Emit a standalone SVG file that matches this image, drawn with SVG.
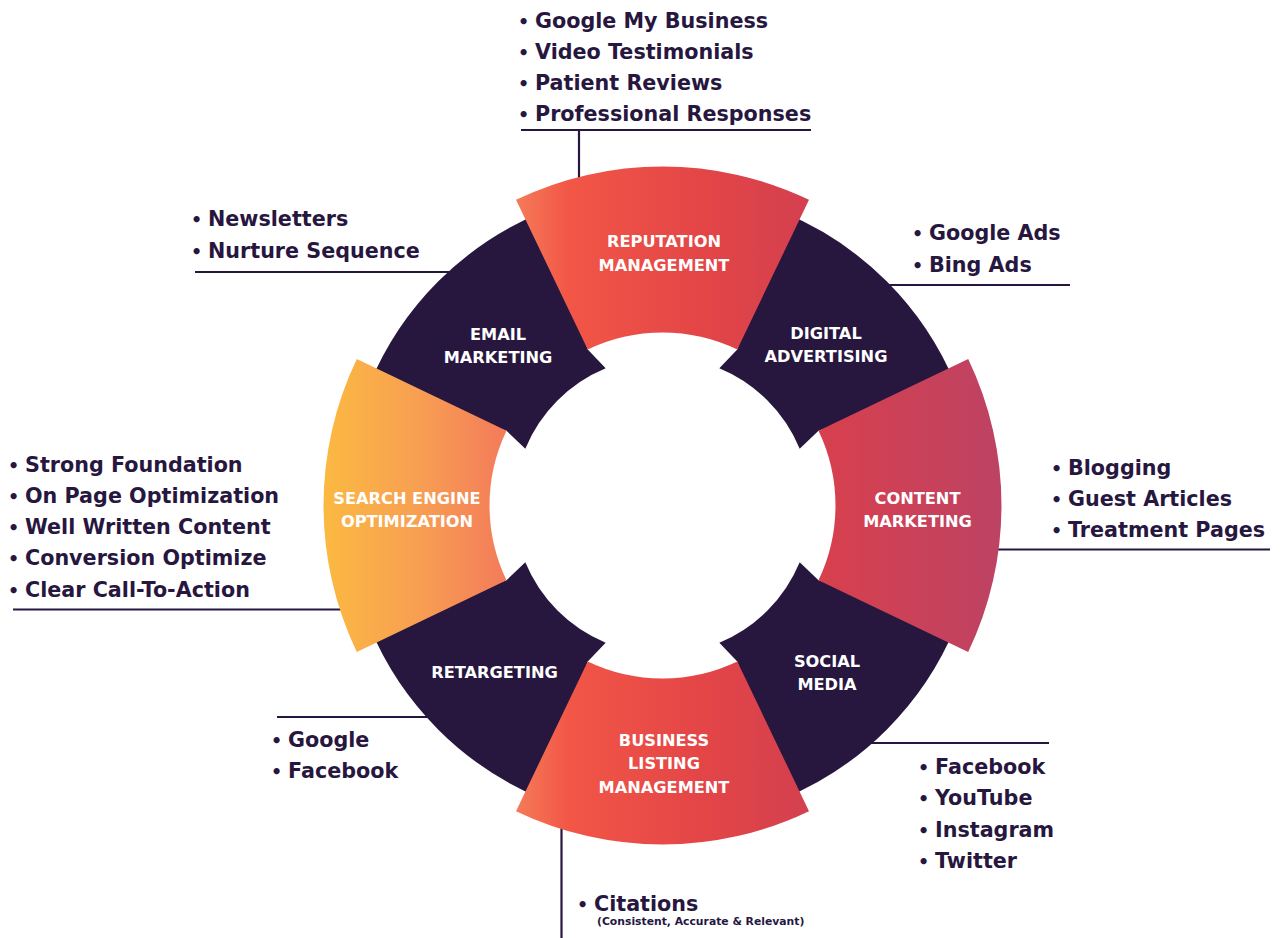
<svg xmlns="http://www.w3.org/2000/svg" width="1284" height="938" viewBox="0 0 1284 938">
  <defs>
    <linearGradient id="gRed" x1="0" y1="0" x2="1" y2="0">
      <stop offset="0" stop-color="#F57B59"/>
      <stop offset="0.18" stop-color="#F25646"/>
      <stop offset="0.65" stop-color="#E34547"/>
      <stop offset="1" stop-color="#D3404F"/>
    </linearGradient>
    <linearGradient id="gSeo" x1="0" y1="0" x2="1" y2="0">
      <stop offset="0" stop-color="#FBB941"/>
      <stop offset="0.5" stop-color="#F8A052"/>
      <stop offset="1" stop-color="#F37B5A"/>
    </linearGradient>
    <linearGradient id="gContent" x1="0" y1="0" x2="1" y2="0">
      <stop offset="0" stop-color="#D8404D"/>
      <stop offset="1" stop-color="#BD4263"/>
    </linearGradient>
    <style>
      .dark { fill: #27173F; }
      .lst { font-family: "DejaVu Sans", "Liberation Sans", sans-serif; font-weight: bold; font-size: 20.7px; fill: #27173F; }
      .b { font-size: 17.5px; }
      .small { font-family: "DejaVu Sans", "Liberation Sans", sans-serif; font-weight: bold; font-size: 10.8px; fill: #27173F; }
      .lbl { font-family: "DejaVu Sans", "Liberation Sans", sans-serif; font-weight: bold; font-size: 16.2px; fill: #FFFFFF; text-anchor: middle; }
      .conn { stroke: #27173F; stroke-width: 2.2; fill: none; }
    </style>
  </defs>
  <rect width="1284" height="938" fill="#FFFFFF"/>

  <g id="connectors">
    <path class="conn" d="M521,130 H811 M579,130 V180"/>
    <path class="conn" d="M195,272 H455"/>
    <path class="conn" d="M880,285 H1070"/>
    <path class="conn" d="M13,609.5 H345"/>
    <path class="conn" d="M995,549.5 H1270"/>
    <path class="conn" d="M277,717 H435"/>
    <path class="conn" d="M865,743 H1049"/>
    <path class="conn" d="M561.5,825 V938"/>
  </g>

  <g id="email-marketing">
    <path class="dark" d="M605.67,368.3 L587.75,349.5 L541.2,212.6 A317,317 0 0 0 369.6,384.2 L506.5,430.75 L525.3,448.67 A148.5,148.5 0 0 1 605.67,368.3 Z"/>
    <text class="lbl" x="498" y="340">EMAIL</text>
    <text class="lbl" x="498" y="363">MARKETING</text>
  </g>
  <g id="digital-advertising">
    <path class="dark" d="M719.33,368.3 L737.25,349.5 L783.8,212.6 A317,317 0 0 1 955.4,384.2 L818.5,430.75 L799.7,448.67 A148.5,148.5 0 0 0 719.33,368.3 Z"/>
    <text class="lbl" x="826" y="338.5">DIGITAL</text>
    <text class="lbl" x="826" y="361.5">ADVERTISING</text>
  </g>
  <g id="social-media">
    <path class="dark" d="M719.33,642.7 L737.25,661.5 L783.8,798.4 A317,317 0 0 0 955.4,626.8 L818.5,580.25 L799.7,562.33 A148.5,148.5 0 0 1 719.33,642.7 Z"/>
    <text class="lbl" x="827" y="666.5">SOCIAL</text>
    <text class="lbl" x="827" y="690">MEDIA</text>
  </g>
  <g id="retargeting">
    <path class="dark" d="M605.67,642.7 L587.75,661.5 L541.2,798.4 A317,317 0 0 1 369.6,626.8 L506.5,580.25 L525.3,562.33 A148.5,148.5 0 0 0 605.67,642.7 Z"/>
    <text class="lbl" x="494.5" y="678">RETARGETING</text>
  </g>

  <g id="reputation-management">
    <path fill="url(#gRed)" d="M516,199.8 A339,339 0 0 1 809,199.8 L737.25,349.5 A173,173 0 0 0 587.75,349.5 Z"/>
    <text class="lbl" x="664" y="247.3">REPUTATION</text>
    <text class="lbl" x="664" y="270.7">MANAGEMENT</text>
  </g>
  <g id="content-marketing">
    <path fill="url(#gContent)" d="M968.2,359 A339,339 0 0 1 968.2,652 L818.5,580.25 A173,173 0 0 0 818.5,430.75 Z"/>
    <text class="lbl" x="917.5" y="504">CONTENT</text>
    <text class="lbl" x="917.5" y="527.3">MARKETING</text>
  </g>
  <g id="business-listing-management">
    <path fill="url(#gRed)" d="M809,811.2 A339,339 0 0 1 516,811.2 L587.75,661.5 A173,173 0 0 0 737.25,661.5 Z"/>
    <text class="lbl" x="664" y="746">BUSINESS</text>
    <text class="lbl" x="664" y="769.3">LISTING</text>
    <text class="lbl" x="664" y="793">MANAGEMENT</text>
  </g>
  <g id="search-engine-optimization">
    <path fill="url(#gSeo)" d="M356.8,652 A339,339 0 0 1 356.8,359 L506.5,430.75 A173,173 0 0 0 506.5,580.25 Z"/>
    <text class="lbl" x="407" y="504">SEARCH ENGINE</text>
    <text class="lbl" x="407" y="526.7">OPTIMIZATION</text>
  </g>

  <g id="reputation-list">
    <text class="lst" x="518" y="27.5"><tspan class="b">•</tspan><tspan x="535">Google My Business</tspan></text>
    <text class="lst" x="518" y="58.5"><tspan class="b">•</tspan><tspan x="535">Video Testimonials</tspan></text>
    <text class="lst" x="518" y="89.5"><tspan class="b">•</tspan><tspan x="535">Patient Reviews</tspan></text>
    <text class="lst" x="518" y="120.5"><tspan class="b">•</tspan><tspan x="535">Professional Responses</tspan></text>
  </g>
  <g id="email-list">
    <text class="lst" x="191" y="225.5"><tspan class="b">•</tspan><tspan x="208">Newsletters</tspan></text>
    <text class="lst" x="191" y="257.5"><tspan class="b">•</tspan><tspan x="208">Nurture Sequence</tspan></text>
  </g>
  <g id="digital-list">
    <text class="lst" x="912" y="239.5"><tspan class="b">•</tspan><tspan x="929">Google Ads</tspan></text>
    <text class="lst" x="912" y="271.5"><tspan class="b">•</tspan><tspan x="929">Bing Ads</tspan></text>
  </g>
  <g id="seo-list">
    <text class="lst" x="8" y="471.5"><tspan class="b">•</tspan><tspan x="25">Strong Foundation</tspan></text>
    <text class="lst" x="8" y="502.8"><tspan class="b">•</tspan><tspan x="25">On Page Optimization</tspan></text>
    <text class="lst" x="8" y="534.1"><tspan class="b">•</tspan><tspan x="25">Well Written Content</tspan></text>
    <text class="lst" x="8" y="565.4"><tspan class="b">•</tspan><tspan x="25">Conversion Optimize</tspan></text>
    <text class="lst" x="8" y="596.7"><tspan class="b">•</tspan><tspan x="25">Clear Call-To-Action</tspan></text>
  </g>
  <g id="content-list">
    <text class="lst" x="1051" y="474.5"><tspan class="b">•</tspan><tspan x="1068">Blogging</tspan></text>
    <text class="lst" x="1051" y="505.5"><tspan class="b">•</tspan><tspan x="1068">Guest Articles</tspan></text>
    <text class="lst" x="1051" y="537"><tspan class="b">•</tspan><tspan x="1068">Treatment Pages</tspan></text>
  </g>
  <g id="retargeting-list">
    <text class="lst" x="271" y="746.5"><tspan class="b">•</tspan><tspan x="288">Google</tspan></text>
    <text class="lst" x="271" y="777.5"><tspan class="b">•</tspan><tspan x="288">Facebook</tspan></text>
  </g>
  <g id="social-list">
    <text class="lst" x="918" y="773.5"><tspan class="b">•</tspan><tspan x="935">Facebook</tspan></text>
    <text class="lst" x="918" y="804.5"><tspan class="b">•</tspan><tspan x="935">YouTube</tspan></text>
    <text class="lst" x="918" y="836.5"><tspan class="b">•</tspan><tspan x="935">Instagram</tspan></text>
    <text class="lst" x="918" y="867.5"><tspan class="b">•</tspan><tspan x="935">Twitter</tspan></text>
  </g>
  <g id="business-list">
    <text class="lst" x="577" y="911"><tspan class="b">•</tspan><tspan x="594">Citations</tspan></text>
    <text class="small" x="597" y="925">(Consistent, Accurate &amp; Relevant)</text>
  </g>
</svg>
